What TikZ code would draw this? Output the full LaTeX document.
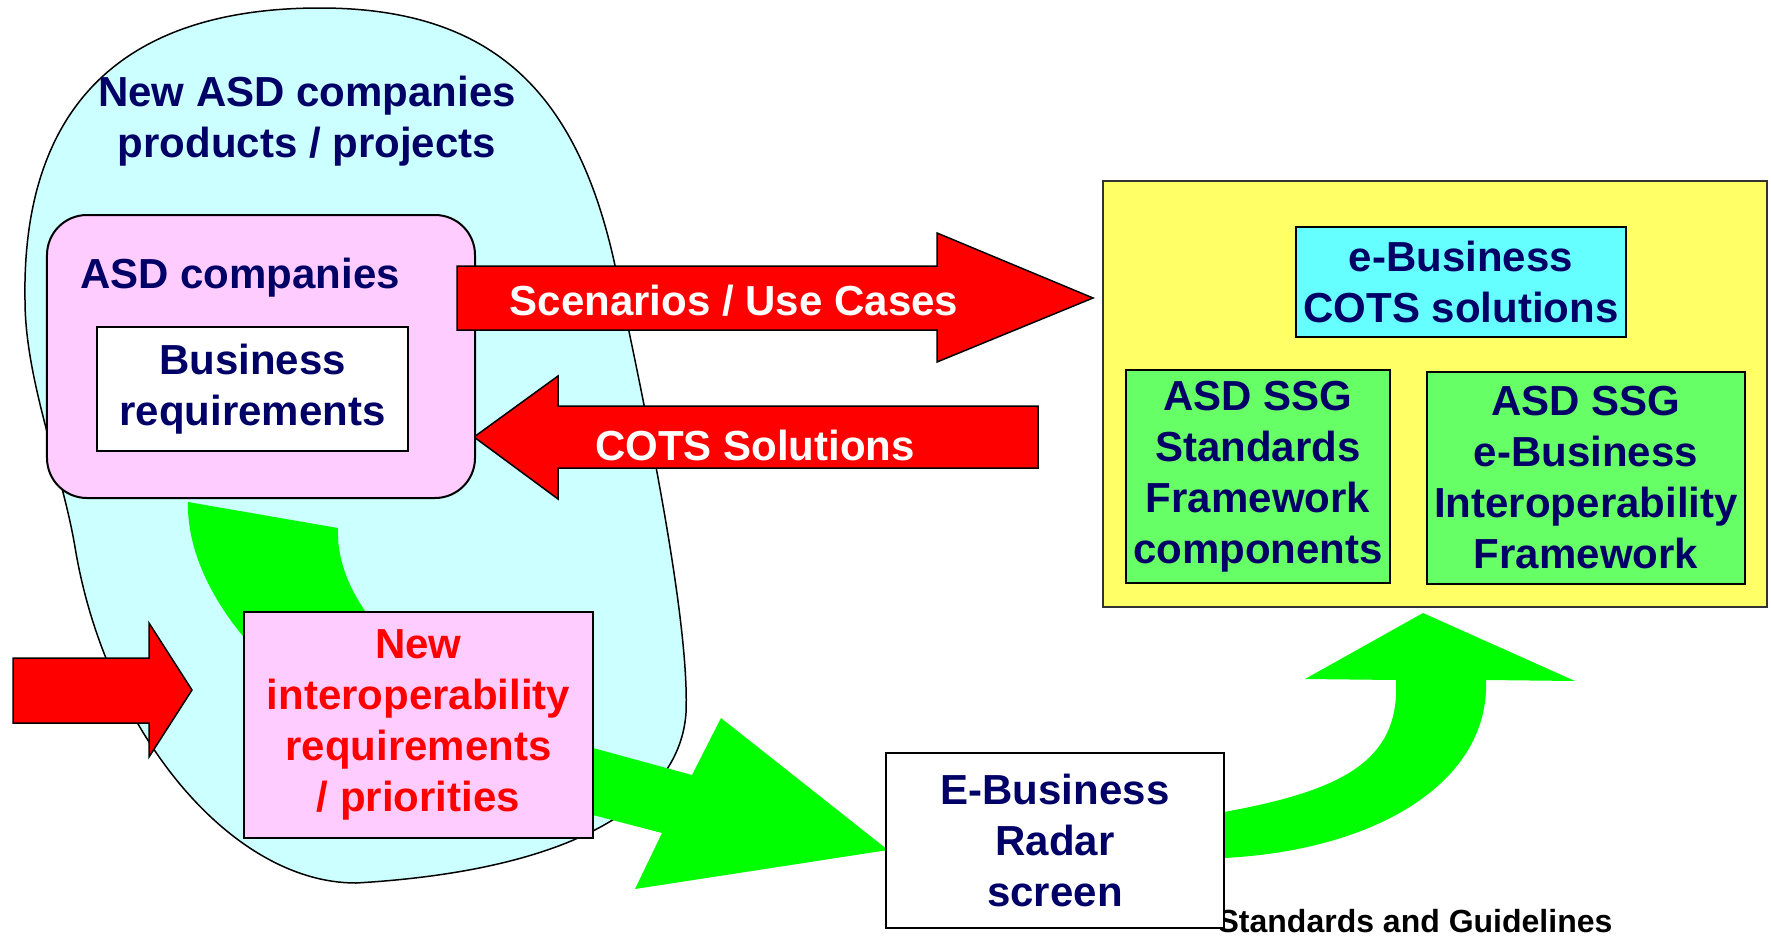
\documentclass[tikz,border=0pt]{standalone}
\usepackage{fontspec}
\setmainfont{Liberation Sans}
\definecolor{navy}{RGB}{0,0,102}
\definecolor{blobcyan}{RGB}{204,255,255}
\definecolor{pinkbox}{RGB}{255,204,255}
\definecolor{yellowbox}{RGB}{255,255,102}
\definecolor{cyanbox}{RGB}{102,255,255}
\definecolor{greenbox}{RGB}{102,255,102}
\definecolor{lime}{RGB}{0,255,0}
\definecolor{redarrow}{RGB}{255,0,0}
\tikzset{
  big/.style={font=\bfseries\fontsize{42bp}{51bp}\selectfont},
  box/.style={draw=black, line width=2bp, inner sep=0pt, align=center, big, text=navy},
  lbl/.style={inner sep=0pt, align=center, big, text=navy},
  redblock/.style={fill=redarrow, draw=black, line width=1.5bp, line join=miter},
  greenblock/.style={fill=lime, draw=none},
}
\begin{document}
\begin{tikzpicture}[x=1bp, y={(0bp,-1bp)}]
\useasboundingbox (0,0) rectangle (1771,936);
\fill[white] (0,0) rectangle (1771,936);

% blob
\draw[fill=blobcyan, line width=1.5bp] (25,300)
  .. controls (22,130) and (100,8) .. (320,8)
  .. controls (500,8) and (580,100) .. (616,270)
  .. controls (645,406) and (690,620) .. (686,713)
  .. controls (680,800) and (580,870) .. (356,883)
  .. controls (230,883) and (105,730) .. (75,547)
  .. controls (62,470) and (25,380) .. (25,300) -- cycle;
\node[lbl] (newasd) at (307,121) {New ASD companies\\products / projects};

% green curved arrow 1
\fill[greenblock] (188,502) -- (338,528)
  .. controls (334,620) and (450,715) .. (593,748)
  -- (692,775) -- (721,718) -- (888,850) -- (635,889) -- (662,833) -- (593,815)
  .. controls (340,775) and (185,620) .. (188,502) -- cycle;

% COTS arrow (behind ASD box)
\draw[redblock] (1038,406) -- (558,406) -- (558,376) -- (474,437) -- (558,499) -- (558,468) -- (1038,468) -- cycle;

% ASD companies box
\node[draw=black, line width=2bp, fill=pinkbox, rounded corners=40bp, minimum width=428bp, minimum height=283bp, inner sep=0pt] (asd) at (261,356.5) {};
\node[lbl, anchor=base] (asdlbl) at (240,288) {ASD companies};
\node[box, fill=white, minimum width=311bp, minimum height=124bp] (busreq) at (252.5,389) {Business\\requirements};

% Scenarios arrow
\draw[redblock] (457,266) -- (937,266) -- (937,233) -- (1093,298) -- (937,362) -- (937,330) -- (457,330) -- cycle;
\node[lbl, text=white, anchor=base] (scen) at (734,315) {Scenarios / Use Cases};
\node[lbl, text=white, anchor=base] (cots) at (755,460) {COTS Solutions};

% left input arrow
\draw[redblock] (13,658) -- (149,658) -- (149,623) -- (192,690) -- (149,757) -- (149,723) -- (13,723) -- cycle;

% new interoperability box
\node[box, fill=pinkbox, text=redarrow, minimum width=349bp, minimum height=226bp] (interop) at (418.5,725) {New\\interoperability\\requirements\\/ priorities};

% footer text
\node[inner sep=0pt, anchor=base, font=\bfseries\fontsize{32bp}{38bp}\selectfont, text=black] (stdg) at (1415,932) {Standards and Guidelines};

% green curved arrow 2
\fill[greenblock] (1200,816) -- (1224,812)
  .. controls (1345,790) and (1400,760) .. (1396,680)
  -- (1305,679) -- (1423,613) -- (1575,681) -- (1486,680)
  .. controls (1490,780) and (1380,850) .. (1224,858) -- (1200,862) -- cycle;

% radar box
\node[box, fill=white, minimum width=338bp, minimum height=175bp] (radar) at (1055,840.5) {E-Business\\Radar\\screen};

% yellow container
\node[draw=black!80, line width=1.5bp, fill=yellowbox, minimum width=664bp, minimum height=426bp, inner sep=0pt] (ssg) at (1435,394) {};
\node[box, fill=cyanbox, minimum width=330bp, minimum height=110bp] (ecots) at (1461,282) {e-Business\\COTS solutions};
\node[box, fill=greenbox, minimum width=264bp, minimum height=213bp] (stdfw) at (1258,476.5) {ASD SSG\\Standards\\Framework\\components};
\node[box, fill=greenbox, minimum width=318bp, minimum height=212bp] (eifw) at (1586,478) {ASD SSG\\e-Business\\Interoperability\\Framework};
\end{tikzpicture}
\end{document}
